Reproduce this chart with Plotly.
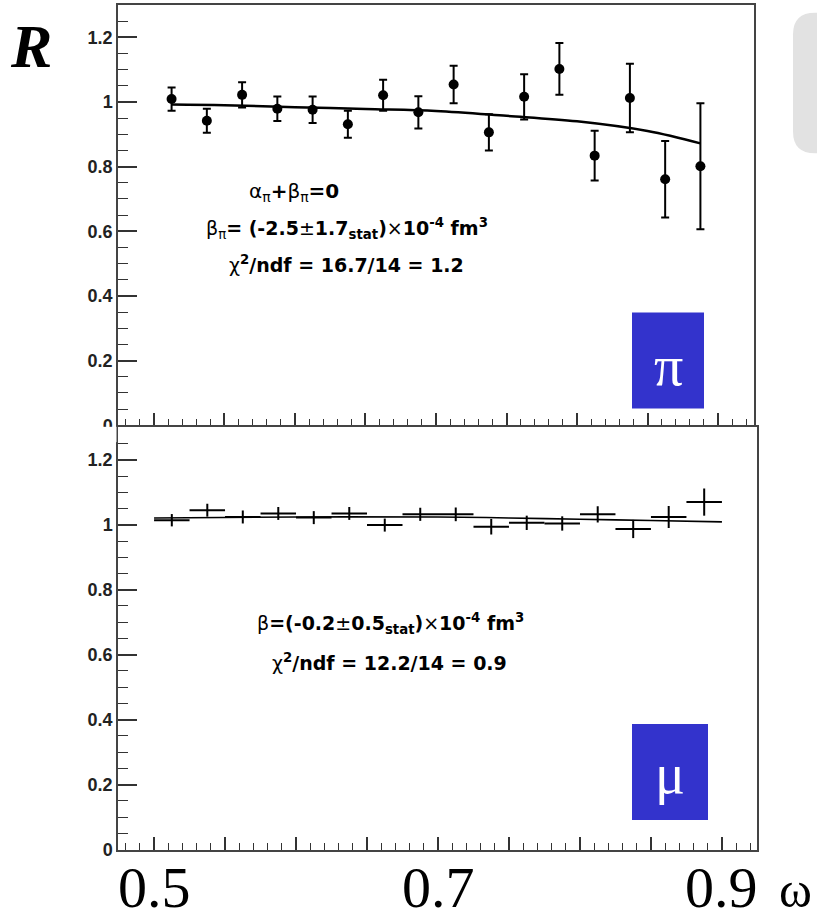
import plotly.graph_objects as go

# ---- data -------------------------------------------------------------
omega = [0.5125, 0.5375, 0.5625, 0.5875, 0.6125, 0.6375, 0.6625, 0.6875,
         0.7125, 0.7375, 0.7625, 0.7875, 0.8125, 0.8375, 0.8625, 0.8875]

# pion ratio with statistical errors
r_pi = [1.009, 0.942, 1.022, 0.979, 0.976, 0.931, 1.021, 0.968,
        1.054, 0.906, 1.016, 1.102, 0.834, 1.012, 0.761, 0.801]
r_pi_err = [0.036, 0.037, 0.039, 0.038, 0.041, 0.042, 0.048, 0.050,
            0.058, 0.056, 0.070, 0.080, 0.077, 0.106, 0.118, 0.195]

# pion fit curve
fit_pi_x = [0.5125, 0.55, 0.60, 0.65, 0.70, 0.75, 0.80, 0.85, 0.8875]
fit_pi_y = [0.992, 0.990, 0.984, 0.978, 0.972, 0.957, 0.940, 0.910, 0.872]

# muon ratio with statistical errors
r_mu = [1.014, 1.045, 1.024, 1.035, 1.022, 1.035, 0.999, 1.032,
        1.032, 0.994, 1.006, 1.004, 1.032, 0.987, 1.024, 1.070]
r_mu_err = [0.019, 0.020, 0.020, 0.020, 0.020, 0.020, 0.020, 0.020,
            0.021, 0.024, 0.022, 0.022, 0.025, 0.028, 0.034, 0.042]
bin_half = 0.0125

# muon fit curve
fit_mu_x = [0.50, 0.60, 0.70, 0.75, 0.80, 0.85, 0.90]
fit_mu_y = [1.021, 1.024, 1.024, 1.021, 1.017, 1.013, 1.009]

x_labels = ["0.5", "0.7", "0.9"]
x_label_vals = [0.5, 0.7, 0.9]

# ---- layout helpers ---------------------------------------------------
W, H = 817, 920


def px(x):
    return x / W


def py(y):
    return 1 - y / H


fig = go.Figure()

# pion panel
fig.add_trace(go.Scatter(
    x=fit_pi_x, y=fit_pi_y, mode="lines", line=dict(color="black", width=2.5, shape="spline"),
    xaxis="x", yaxis="y", hoverinfo="skip", showlegend=False))
fig.add_trace(go.Scatter(
    x=omega, y=r_pi, mode="markers",
    marker=dict(color="black", size=10),
    error_y=dict(type="data", array=r_pi_err, color="black", thickness=2, width=4),
    xaxis="x", yaxis="y", showlegend=False))

# muon panel
fig.add_trace(go.Scatter(
    x=fit_mu_x, y=fit_mu_y, mode="lines", line=dict(color="black", width=1.6, shape="spline"),
    xaxis="x2", yaxis="y2", hoverinfo="skip", showlegend=False))
fig.add_trace(go.Scatter(
    x=omega, y=r_mu, mode="markers",
    marker=dict(color="black", size=1),
    error_x=dict(type="constant", value=bin_half, color="black", thickness=2, width=0),
    error_y=dict(type="data", array=r_mu_err, color="black", thickness=2, width=0),
    xaxis="x2", yaxis="y2", showlegend=False))

axis_x = dict(
    showline=True, mirror=True, linewidth=1.5, linecolor="#444",
    ticks="inside", tick0=0.5, dtick=0.05, ticklen=13, tickwidth=1.5, tickcolor="#333",
    minor=dict(ticks="inside", dtick=0.01, ticklen=7, tickwidth=1.4,
               tickcolor="#333", showgrid=False),
    showticklabels=False, showgrid=False, zeroline=False,
)
axis_y = dict(
    showline=True, mirror=True, linewidth=1.5, linecolor="#444",
    ticks="inside", tick0=0, dtick=0.2, ticklen=19, tickwidth=1.5, tickcolor="#333",
    minor=dict(ticks="inside", dtick=0.05, ticklen=10, tickwidth=1.4,
               tickcolor="#333", showgrid=False),
    tickfont=dict(family="Liberation Sans, Arial", size=18, color="#222", weight="bold"),
    showgrid=False, zeroline=False, range=[0, 1.3],
)

fig.update_layout(
    width=W, height=H, margin=dict(l=0, r=0, t=0, b=0),
    paper_bgcolor="white", plot_bgcolor="white",
    xaxis=dict(axis_x, domain=[px(118), px(754)], range=[0.4745, 0.9255], anchor="y"),
    yaxis=dict(axis_y, domain=[py(430), py(5)], anchor="x"),
    xaxis2=dict(axis_x, domain=[px(118), px(757)], range=[0.4746, 0.9247], anchor="y2"),
    yaxis2=dict(axis_y, domain=[py(859), py(432)], anchor="x2"),
)

# ---- decorations ------------------------------------------------------
shapes = []

# rounded grey panel at the right edge
x0, x1, y0, y1, r = 793, 840, 13, 155, 22
path = (f"M {px(x0 + r)},{py(y0)} L {px(x1)},{py(y0)} L {px(x1)},{py(y1)} "
        f"L {px(x0 + r)},{py(y1)} Q {px(x0)},{py(y1)} {px(x0)},{py(y1 - r)} "
        f"L {px(x0)},{py(y0 + r)} Q {px(x0)},{py(y0)} {px(x0 + r)},{py(y0)} Z")
shapes.append(dict(type="path", path=path, xref="paper", yref="paper",
                   fillcolor="#e2e2e2", line=dict(width=0), layer="below"))

# particle badges
shapes.append(dict(type="rect", xref="paper", yref="paper",
                   x0=px(632), x1=px(704), y0=py(413), y1=py(316),
                   fillcolor="#3333cc", line=dict(width=0)))
shapes.append(dict(type="rect", xref="paper", yref="paper",
                   x0=px(632), x1=px(708), y0=py(829), y1=py(732),
                   fillcolor="#3333cc", line=dict(width=0)))

# lower half of the upper panel's zero label sits under the lower panel
shapes.append(dict(type="rect", xref="paper", yref="paper",
                   x0=px(92), x1=px(116.5), y0=py(447), y1=py(431.5),
                   fillcolor="white", line=dict(width=0), layer="above"))

fig.update_layout(shapes=shapes)

TXT = "DejaVu Sans"
ann = []


def label(text, x, y, size, family=TXT, color="black", **kw):
    ann.append(dict(text=text, x=px(x), y=py(y), xref="paper", yref="paper",
                    showarrow=False, xanchor="center", yanchor="middle",
                    font=dict(family=family, size=size, color=color), **kw))


label("<b><i>R</i></b>", 31, 47, 62, family="Liberation Serif, Times New Roman")

label("α<sub>π</sub><b>+</b>β<sub>π</sub><b>=0</b>", 294, 194, 20)
label("β<sub>π</sub><b>= (-2.5</b>±<b>1.7<sub>stat</sub>)</b>×<b>10<sup>-4</sup> fm<sup>3</sup></b>",
      347, 231, 19)
label("χ<sup><b>2</b></sup><b>/ndf = 16.7/14 = 1.2</b>", 346, 267, 19)

label("β<b>=(-0.2</b>±<b>0.5<sub>stat</sub>)</b>×<b>10<sup>-4</sup> fm<sup>3</sup></b>",
      390, 630, 19)
label("χ<sup><b>2</b></sup><b>/ndf = 12.2/14 = 0.9</b>", 389, 669, 19)

label("π", 668, 370, 58, family="Liberation Serif, Times New Roman", color="white")
label("μ", 670, 782, 56, family="Liberation Serif, Times New Roman", color="white")

# large axis numbers along the bottom
for v, t in zip(x_label_vals, x_labels):
    ann.append(dict(text=t, x=v, y=py(897), xref="x2", yref="paper",
                    showarrow=False, xanchor="center", yanchor="middle",
                    font=dict(family="Liberation Serif, Times New Roman", size=58, color="black")))
label("ω", 795, 900, 50, family="Liberation Serif, Times New Roman")

fig.update_layout(annotations=ann)

fig.write_html("out.html")
